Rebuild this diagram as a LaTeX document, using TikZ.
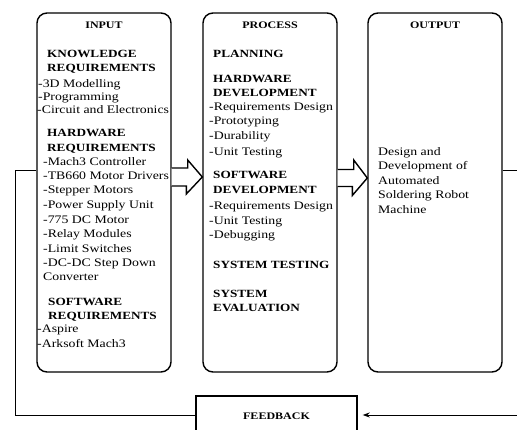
\documentclass[tikz,border=0pt]{standalone}
\usepackage{fontspec}
\usetikzlibrary{arrows.meta,calc}
\newfontfamily\tf[FakeStretch=1.2]{Liberation Serif}
\tikzset{
  box/.style={draw, line width=1.4pt, rounded corners=10pt, minimum width=134pt, minimum height=359pt, inner sep=0pt},
  fbbox/.style={draw, line width=1.4pt, minimum width=161pt, minimum height=44pt, inner sep=0pt},
  tx/.style={font=\tf\fontsize{11.5}{13}\selectfont, inner sep=0pt, text height=8pt, text depth=2.5pt, anchor=west, yshift=-3pt},
  hd/.style={font=\tf\fontsize{11}{13}\selectfont\bfseries, inner sep=0pt, text height=8pt, text depth=2.5pt, anchor=west, yshift=-3pt},
  ttl/.style={font=\tf\fontsize{10}{12}\selectfont\bfseries, inner sep=0pt, text height=7pt, text depth=2pt, yshift=-2pt},
  blockarrow/.style={draw, line width=1.4pt, fill=white, line join=miter},
  conn/.style={draw, line width=1pt}
}
\begin{document}
\begin{tikzpicture}[x=1pt, y=-1pt]
\useasboundingbox (0,0) rectangle (517,430);
\clip (0,0) rectangle (517,430);
% boxes
\node[box] (inp) at (104,192.5) {};
\node[box] (pro) at (270,192.5) {};
\node[box] (out) at (435,192.5) {};
\node[fbbox] (fb) at (276.5,418) {};
% helper coordinates
\coordinate (ya) at (0,177);
\coordinate (yb) at (0,178);
\coordinate (yr) at (0,171);
\coordinate (yf) at (0,415);
\coordinate (rc1) at (530,171);
\coordinate (rc2) at (530,415);
\coordinate (lc1) at (15,415);
\coordinate (lc2) at (15,171);
% block arrows
\path[blockarrow] ($(inp.east |- ya)+(0,-9)$) -- ++(16,0) -- ++(0,-8) -- ($(pro.west |- ya)$) -- ++(-16,17) -- ++(0,-8) -- ($(inp.east |- ya)+(0,9)$);
\path[blockarrow] ($(pro.east |- yb)+(0,-8.5)$) -- ++(16,0) -- ++(0,-9.5) -- ($(out.west |- yb)$) -- ++(-15,17.5) -- ++(0,-9) -- ($(pro.east |- yb)+(0,8.5)$);
% feedback connectors
\draw[conn, -{Stealth[length=7pt,width=5pt]}, shorten >=5pt] (out.east |- yr) -- (rc1) -- (rc2) -- (fb.east |- yf);
\draw[conn] (fb.west |- yf) -- (lc1) -- (lc2) -- (inp.west |- yr);
% titles
\node[ttl] (tin) at (104,24) {INPUT};
\node[ttl] (tpr) at (270,24) {PROCESS};
\node[ttl] (tou) at (435,24) {OUTPUT};
\node[ttl] (tfb) at (276.5,415) {FEEDBACK};
% input texts
\node[hd] (i1) at (47,52) {KNOWLEDGE};
\node[hd] (i2) at (47,66) {REQUIREMENTS};
\node[tx] (i3) at (38,82) {-3D Modelling};
\node[tx] (i4) at (38,95) {-Programming};
\node[tx] (i5) at (37,108) {-Circuit and Electronics};
\node[hd] (i6) at (47,131) {HARDWARE};
\node[hd] (i7) at (47,146) {REQUIREMENTS};
\node[tx] (i8) at (43,160) {-Mach3 Controller};
\node[tx] (i9) at (43,174) {-TB660 Motor Drivers};
\node[tx] (i10) at (43,188) {-Stepper Motors};
\node[tx] (i11) at (43,203) {-Power Supply Unit};
\node[tx] (i12) at (43,218) {-775 DC Motor};
\node[tx] (i13) at (43,232) {-Relay Modules};
\node[tx] (i14) at (43,247) {-Limit Switches};
\node[tx] (i15) at (43,261) {-DC-DC Step Down};
\node[tx] (i16) at (43,275) {Converter};
\node[hd] (i17) at (48,300) {SOFTWARE};
\node[hd] (i18) at (48,314) {REQUIREMENTS};
\node[tx] (i19) at (37,327) {-Aspire};
\node[tx] (i20) at (37,342) {-Arksoft Mach3};
% process texts
\node[hd] (p1) at (213,52) {PLANNING};
\node[hd] (p2) at (213,77) {HARDWARE};
\node[hd] (p3) at (213,91) {DEVELOPMENT};
\node[tx] (p4) at (209,105) {-Requirements Design};
\node[tx] (p5) at (209,119) {-Prototyping};
\node[tx] (p6) at (209,134) {-Durability};
\node[tx] (p7) at (209,150) {-Unit Testing};
\node[hd] (p8) at (213,173) {SOFTWARE};
\node[hd] (p9) at (213,188) {DEVELOPMENT};
\node[tx] (p10) at (209,204) {-Requirements Design};
\node[tx] (p11) at (209,219) {-Unit Testing};
\node[tx] (p12) at (209,233) {-Debugging};
\node[hd] (p13) at (213,263) {SYSTEM TESTING};
\node[hd] (p14) at (213,292) {SYSTEM};
\node[hd] (p15) at (213,306) {EVALUATION};
% output texts
\node[tx] (o1) at (378,150) {Design and};
\node[tx] (o2) at (378,164) {Development of};
\node[tx] (o3) at (378,179) {Automated};
\node[tx] (o4) at (378,193) {Soldering Robot};
\node[tx] (o5) at (378,208) {Machine};
\end{tikzpicture}
\end{document}
